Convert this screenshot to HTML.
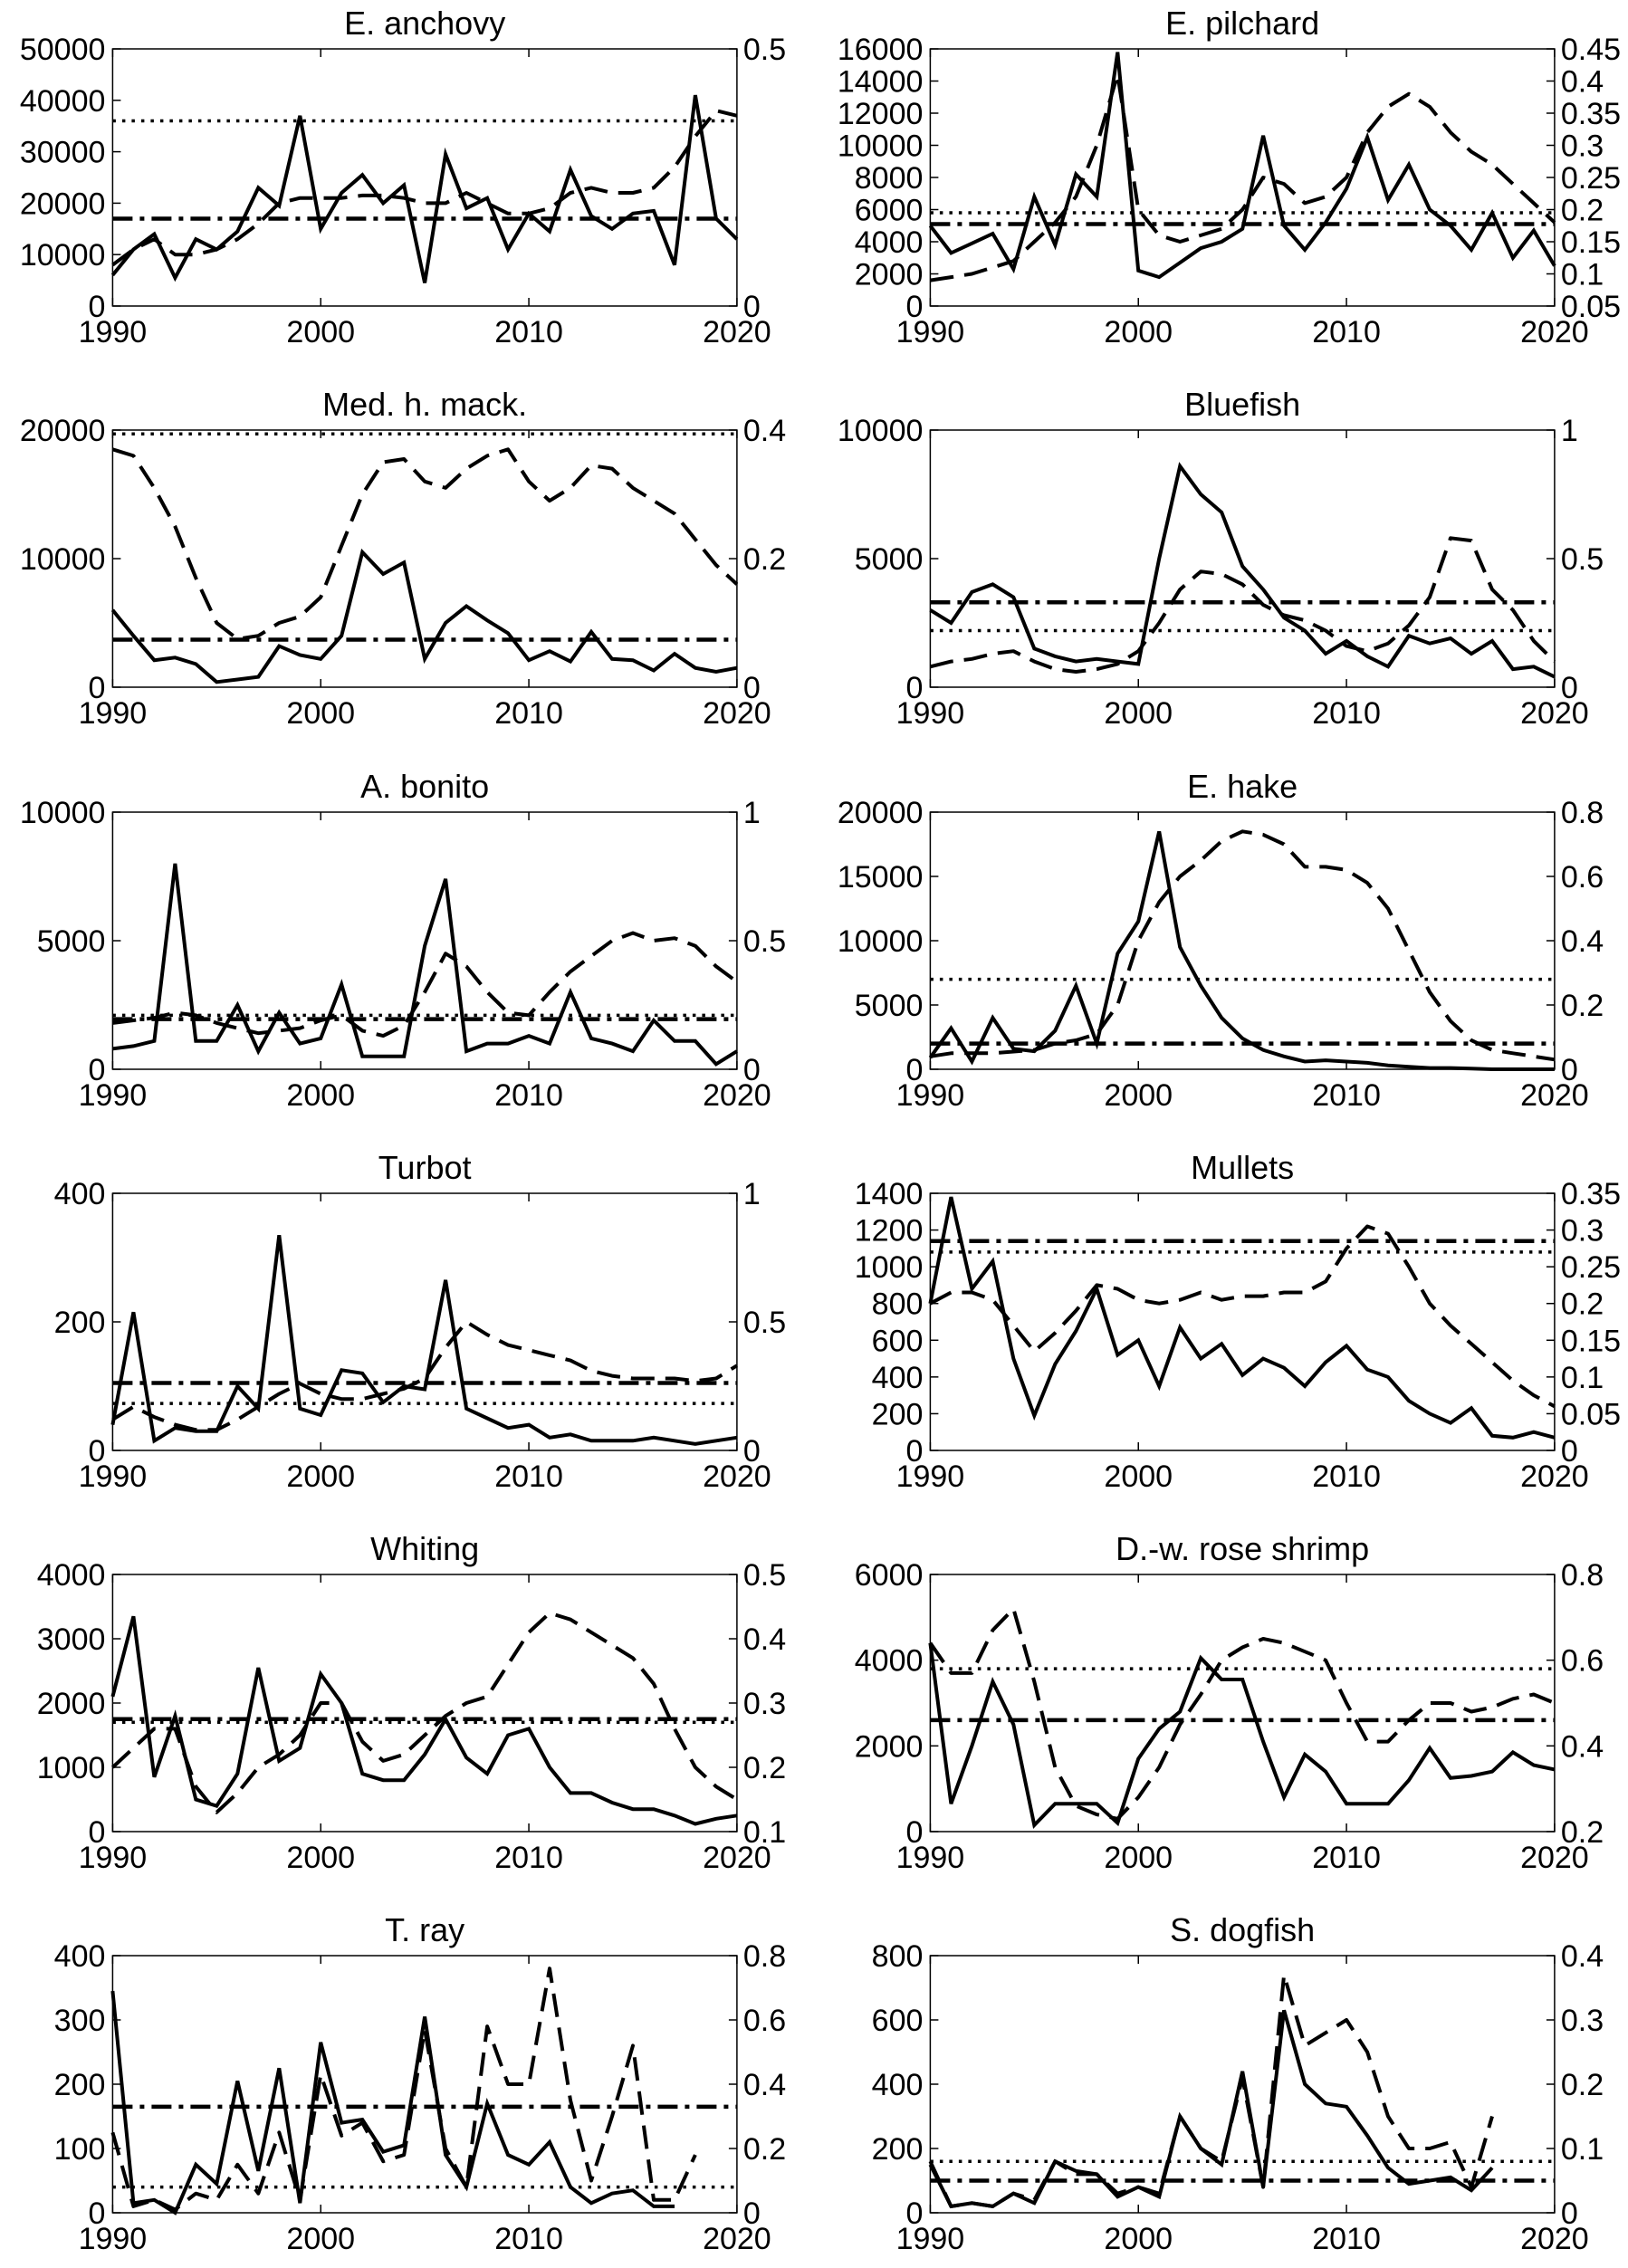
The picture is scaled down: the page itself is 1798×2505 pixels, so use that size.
<!DOCTYPE html>
<html><head><meta charset="utf-8"><style>
html,body{margin:0;padding:0;background:#fff;}
svg text{font-family:"Liberation Sans",sans-serif;fill:#000;}
</style></head><body>
<svg id="fig" width="1798" height="2500" viewBox="0 0 1798 2500" xmlns="http://www.w3.org/2000/svg"></svg>
<script>
const years = [];
for (let y = 1990; y <= 2020; y++) years.push(y);
const titles = ["E. anchovy","E. pilchard","Med. h. mack.","Bluefish","A. bonito","E. hake","Turbot","Mullets","Whiting","D.-w. rose shrimp","T. ray","S. dogfish"];
const leftRanges = [[0,50000],[0,16000],[0,20000],[0,10000],[0,10000],[0,20000],[0,400],[0,1400],[0,4000],[0,6000],[0,400],[0,800]];
const leftTicks = [[0,10000,20000,30000,40000,50000],[0,2000,4000,6000,8000,10000,12000,14000,16000],[0,10000,20000],[0,5000,10000],[0,5000,10000],[0,5000,10000,15000,20000],[0,200,400],[0,200,400,600,800,1000,1200,1400],[0,1000,2000,3000,4000],[0,2000,4000,6000],[0,100,200,300,400],[0,200,400,600,800]];
const rightRanges = [[0,0.5],[0.05,0.45],[0,0.4],[0,1],[0,1],[0,0.8],[0,1],[0,0.35],[0.1,0.5],[0.2,0.8],[0,0.8],[0,0.4]];
const rightTicks = [["0","0.5"],["0.05","0.1","0.15","0.2","0.25","0.3","0.35","0.4","0.45"],["0","0.2","0.4"],["0","0.5","1"],["0","0.5","1"],["0","0.2","0.4","0.6","0.8"],["0","0.5","1"],["0","0.05","0.1","0.15","0.2","0.25","0.3","0.35"],["0.1","0.2","0.3","0.4","0.5"],["0.2","0.4","0.6","0.8"],["0","0.2","0.4","0.6","0.8"],["0","0.1","0.2","0.3","0.4"]];
const N = null;
const catchSeries = [
[6000,11000,14000,5500,13000,11000,14500,23000,19500,37000,15000,22000,25500,20000,23500,4500,29500,19000,21000,11000,18000,14500,26500,17500,15000,18000,18500,8000,41000,17000,13000],
[5000,3300,3900,4500,2300,6800,3800,8200,6800,15800,2200,1800,2700,3600,4000,4800,10600,5000,3500,5200,7300,10500,6600,8800,6000,5000,3500,5800,3000,4700,2500],
[6000,4000,2100,2300,1800,400,600,800,3200,2500,2200,4000,10500,8800,9700,2200,5000,6300,5200,4200,2100,2800,2000,4300,2200,2100,1300,2600,1500,1200,1500],
[3000,2500,3700,4000,3500,1500,1200,1000,1100,1000,900,5000,8600,7500,6800,4700,3800,2700,2200,1300,1800,1200,800,2000,1700,1900,1300,1800,700,800,400],
[800,900,1100,8000,1100,1100,2500,700,2200,1000,1200,3300,500,500,500,4800,7400,700,1000,1000,1300,1000,3000,1200,1000,700,1900,1100,1100,200,700],
[900,3200,600,4000,1600,1400,3000,6500,2000,9000,11500,18500,9500,6500,4000,2400,1500,1000,600,700,600,500,300,200,100,100,50,0,0,0,0],
[40,215,15,35,30,30,100,65,335,65,55,125,120,75,100,95,265,65,50,35,40,20,25,15,15,15,20,15,10,15,20],
[800,1380,880,1030,500,190,470,650,880,520,600,350,670,500,580,410,500,450,350,480,570,440,400,270,200,150,230,80,70,100,70],
[2100,3350,850,1800,500,400,900,2550,1100,1300,2450,2000,900,800,800,1200,1750,1150,900,1500,1600,1000,600,600,450,350,350,250,120,200,250],
[4400,650,2000,3500,2500,150,650,650,650,200,1700,2400,2800,4050,3550,3550,2100,800,1800,1400,650,650,650,1200,1950,1250,1300,1400,1850,1550,1450],
[345,15,20,0,75,45,205,65,225,15,265,140,145,95,105,305,90,40,170,90,75,110,40,15,30,35,10,10,N,N,N],
[150,20,30,20,60,30,160,130,120,50,80,50,300,200,150,440,80,630,400,340,330,240,140,90,100,110,70,140,N,N,N]
];
const rateSeries = [
[0.08,0.11,0.13,0.10,0.10,0.11,0.13,0.16,0.20,0.21,0.21,0.21,0.215,0.215,0.21,0.20,0.20,0.22,0.20,0.18,0.18,0.19,0.22,0.23,0.22,0.22,0.23,0.27,0.33,0.38,0.37],
[0.09,0.095,0.10,0.11,0.12,0.15,0.18,0.22,0.30,0.41,0.20,0.16,0.15,0.16,0.17,0.20,0.25,0.24,0.21,0.22,0.25,0.32,0.36,0.38,0.36,0.32,0.29,0.27,0.24,0.21,0.18],
[0.37,0.36,0.31,0.25,0.17,0.10,0.075,0.08,0.10,0.11,0.14,0.22,0.30,0.35,0.355,0.32,0.31,0.34,0.36,0.37,0.32,0.29,0.31,0.345,0.34,0.31,0.29,0.27,0.23,0.19,0.16],
[0.08,0.10,0.11,0.13,0.14,0.10,0.07,0.06,0.07,0.09,0.14,0.25,0.38,0.45,0.44,0.40,0.32,0.28,0.26,0.22,0.16,0.14,0.17,0.24,0.35,0.58,0.57,0.38,0.30,0.18,0.10],
[0.18,0.19,0.20,0.22,0.21,0.18,0.16,0.14,0.15,0.16,0.19,0.21,0.15,0.13,0.17,0.30,0.45,0.40,0.30,0.22,0.21,0.30,0.38,0.44,0.50,0.53,0.50,0.51,0.48,0.40,0.34],
[0.04,0.05,0.05,0.05,0.055,0.06,0.08,0.09,0.11,0.20,0.40,0.52,0.60,0.65,0.71,0.74,0.73,0.70,0.63,0.63,0.62,0.58,0.50,0.37,0.24,0.15,0.09,0.06,0.05,0.04,0.03],
[0.12,0.17,0.13,0.10,0.08,0.08,0.12,0.17,0.22,0.26,0.22,0.20,0.20,0.22,0.24,0.28,0.40,0.50,0.45,0.41,0.39,0.37,0.35,0.31,0.29,0.28,0.28,0.28,0.27,0.28,0.33],
[0.20,0.215,0.215,0.205,0.17,0.135,0.16,0.19,0.225,0.22,0.205,0.20,0.205,0.215,0.205,0.21,0.21,0.215,0.215,0.23,0.275,0.305,0.295,0.25,0.20,0.17,0.145,0.12,0.095,0.075,0.06],
[0.20,0.23,0.26,0.26,0.17,0.13,0.16,0.20,0.22,0.25,0.30,0.30,0.24,0.21,0.22,0.25,0.28,0.30,0.31,0.36,0.41,0.44,0.43,0.41,0.39,0.37,0.33,0.26,0.20,0.17,0.15],
[0.64,0.57,0.57,0.67,0.72,0.55,0.35,0.26,0.24,0.23,0.28,0.35,0.45,0.52,0.60,0.63,0.65,0.64,0.62,0.60,0.50,0.41,0.41,0.46,0.50,0.50,0.48,0.49,0.51,0.52,0.50],
[0.25,0.02,0.04,0.01,0.06,0.04,0.15,0.06,0.25,0.04,0.43,0.24,0.28,0.16,0.18,0.57,0.20,0.08,0.58,0.40,0.40,0.76,0.35,0.10,0.30,0.52,0.04,0.04,0.18,N,N],
[0.08,0.01,0.015,0.01,0.03,0.02,0.08,0.06,0.06,0.03,0.04,0.03,0.15,0.10,0.08,0.21,0.04,0.37,0.26,0.28,0.30,0.25,0.15,0.10,0.10,0.11,0.04,0.15,N,N,N]
];
const dottedRefs = [36000,5800,19700,2200,2100,7000,73,1080,1700,3800,40,160];
const dashDotRefs = [17000,5100,3700,3300,1950,2000,105,1140,1750,2600,165,100];

const svg = document.getElementById('fig');
const NS = 'http://www.w3.org/2000/svg';
function mk(tag, attrs, parent) {
  const e = document.createElementNS(NS, tag);
  for (const k in attrs) e.setAttribute(k, attrs[k]);
  (parent || svg).appendChild(e);
  return e;
}
const colX = [124.4, 1027.4], W = 689.5, H = 284;
const rowY = [54, 475, 897, 1318, 1739, 2160];

titles.forEach((title, i) => {
  const x0 = colX[i % 2], y0 = rowY[Math.floor(i / 2)];
  const g = mk('g', {});
  
  
  const [l0, l1] = leftRanges[i], [r0, r1] = rightRanges[i];
  const sx = y => x0 + (y - 1990) / 30 * W;
  const syL = v => y0 + H - (v - l0) / (l1 - l0) * H;
  const syR = v => y0 + H - (v - r0) / (r1 - r0) * H;
  const t = mk('text', {x: x0 + W / 2, y: y0 - 16, 'text-anchor': 'middle', 'font-size': 36}, g);
  t.textContent = title;
  
  
  leftTicks[i].forEach(v => {
    const y = syL(v);
    mk('line', {x1: x0, x2: x0 + 9, y1: y, y2: y, stroke: '#000', 'stroke-width': 1.5}, g);
    const tt = mk('text', {x: x0 - 8, y: y + 12, 'text-anchor': 'end', 'font-size': 34}, g);
    tt.textContent = v;
    
    
  });
  rightTicks[i].forEach(s => {
    const y = syR(parseFloat(s));
    mk('line', {x1: x0 + W - 9, x2: x0 + W, y1: y, y2: y, stroke: '#000', 'stroke-width': 1.5}, g);
    const tt = mk('text', {x: x0 + W + 7, y: y + 12, 'text-anchor': 'start', 'font-size': 34}, g);
    tt.textContent = s;
    
    
  });
  [1990, 2000, 2010, 2020].forEach(yr => {
    const x = sx(yr);
    mk('line', {x1: x, x2: x, y1: y0 + H, y2: y0 + H - 9, stroke: '#000', 'stroke-width': 1.5}, g);
    mk('line', {x1: x, x2: x, y1: y0, y2: y0 + 9, stroke: '#000', 'stroke-width': 1.5}, g);
    const tt = mk('text', {x: x, y: y0 + H + 40, 'text-anchor': 'middle', 'font-size': 34}, g);
    tt.textContent = yr;
    
    
  });
  const dy = syL(dottedRefs[i]);
  const dl = mk('line', {x1: x0, x2: x0 + W, y1: dy, y2: dy, stroke: '#000', 'stroke-width': 3.5, 'stroke-dasharray': '3.5 7'}, g);
  
  
  const ddy = syL(dashDotRefs[i]);
  const ddl = mk('line', {x1: x0, x2: x0 + W, y1: ddy, y2: ddy, stroke: '#000', 'stroke-width': 4.5, 'stroke-dasharray': '22 8 5 8'}, g);
  
  
  function path(vals, sy) {
    let d = '', pen = false;
    vals.forEach((v, k) => {
      if (v === null) { pen = false; return; }
      d += (pen ? 'L' : 'M') + sx(years[k]).toFixed(1) + ' ' + sy(v).toFixed(1) + ' ';
      pen = true;
    });
    return d;
  }
  const dp = mk('path', {d: path(rateSeries[i], syR), fill: 'none', stroke: '#000', 'stroke-width': 4, 'stroke-dasharray': '26 12', 'stroke-linejoin': 'round'}, g);
  
  
  const sp = mk('path', {d: path(catchSeries[i], syL), fill: 'none', stroke: '#000', 'stroke-width': 4, 'stroke-linejoin': 'miter'}, g);
  
  
  const box = mk('rect', {x: x0, y: y0, width: W, height: H, fill: 'none', stroke: '#000', 'stroke-width': 1.5}, g);
  
  
});
</script>
</body></html>
